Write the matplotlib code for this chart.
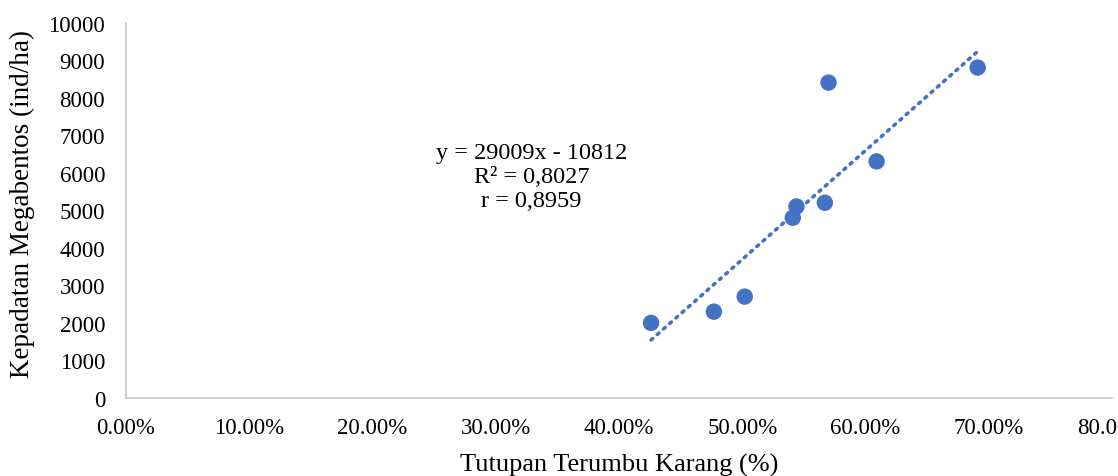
import matplotlib.pyplot as plt
import numpy as np
from matplotlib.ticker import FuncFormatter

# Tutupan terumbu karang (fraction) vs kepadatan megabentos (ind/ha)
coral_cover = [0.426, 0.477, 0.502, 0.541, 0.544, 0.567, 0.570, 0.609, 0.691]
density = [2000, 2300, 2700, 4800, 5100, 5200, 8400, 6300, 8800]

eq_text = "y = 29009x - 10812\nR² = 0,8027\nr = 0,8959"

blue = '#4472C4'
plt.rcParams['font.family'] = ['Liberation Serif', 'DejaVu Serif']

fig = plt.figure(figsize=(11.18, 4.77), dpi=100)
ax = fig.add_axes([126 / 1118, 78 / 477, 986 / 1118, 375.5 / 477])

x = np.array(coral_cover)
y = np.array(density)

# linear trendline over the data range
slope, intercept = np.polyfit(x, y, 1)
xt = np.array([x.min(), x.max()])
ax.plot(xt, slope * xt + intercept, color=blue, linewidth=2.6,
        linestyle=(0, (0.6, 1.7)), dash_capstyle='round', zorder=2)

ax.scatter(x, y, s=140, color=blue, edgecolors='none', zorder=3)

ax.text(0.329, 5900, eq_text, ha='center', va='center', fontsize=17.5,
        linespacing=1.2)

ax.set_xlim(0, 0.8)
ax.set_ylim(0, 10000)
ax.set_xticks(np.arange(0, 0.81, 0.1))
ax.set_yticks(np.arange(0, 10001, 1000))
ax.xaxis.set_major_formatter(FuncFormatter(lambda v, p: f"{v * 100:.2f}%"))

ax.tick_params(axis='both', length=0, labelsize=16.5)
ax.tick_params(axis='x', pad=14)
ax.tick_params(axis='y', pad=15)

for side in ['top', 'right']:
    ax.spines[side].set_visible(False)
for side in ['left', 'bottom']:
    ax.spines[side].set_color('#C8C8C8')
    ax.spines[side].set_linewidth(1.2)

ax.set_xlabel('Tutupan Terumbu Karang (%)', fontsize=19)
ax.set_ylabel('Kepadatan Megabentos (ind/ha)', fontsize=19.5)
ax.xaxis.set_label_coords(0.5, -0.145)
ax.yaxis.set_label_coords(-0.092, 0.52)

plt.savefig('out.png', dpi=100)
